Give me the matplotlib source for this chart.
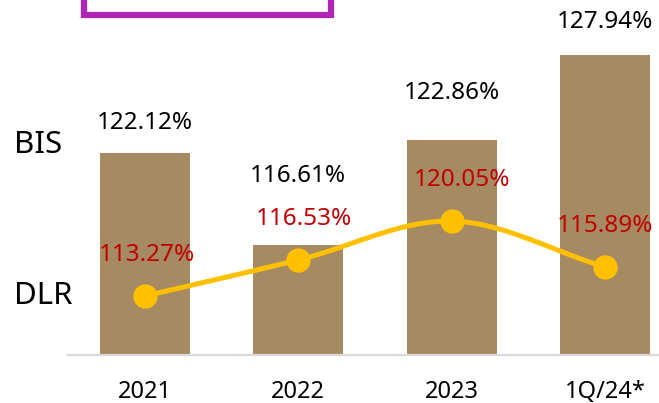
import matplotlib
matplotlib.use("Agg")
import matplotlib.pyplot as plt
import numpy as np
from matplotlib.patches import Rectangle

plt.rcParams['font.family'] = ['Noto Sans', 'DejaVu Sans']

categories = ["2021", "2022", "2023", "1Q/24*"]
bis_values = [122.12, 116.61, 122.86, 127.94]
dlr_values = [113.27, 116.53, 120.05, 115.89]
bis_labels = ["122.12%", "116.61%", "122.86%", "127.94%"]
dlr_labels = ["113.27%", "116.53%", "120.05%", "115.89%"]

W, H = 659, 403
fig = plt.figure(figsize=(W / 100, H / 100), dpi=100)

def px_axes(l, t, r, b):
    return [l / W, (H - b) / H, (r - l) / W, (b - t) / H]

ax = fig.add_axes(px_axes(68, 20, 659, 355))
x = np.arange(len(categories))
ax.bar(x, bis_values, width=0.587, color="#A68A62", zorder=2)
ax.set_xlim(-0.502, 3.352)
ax.set_ylim(110, 130.06)
for s in ["top", "right", "left"]:
    ax.spines[s].set_visible(False)
ax.spines["bottom"].set_color("#D9D9D9")
ax.spines["bottom"].set_linewidth(1.6)
ax.set_yticks([])
ax.set_xticks(x)
ax.set_xticklabels(categories, fontsize=17)
ax.tick_params(axis="x", length=0, pad=18)

bis_off_px = [30, 69, 47, 33]
for i, (v, lab) in enumerate(zip(bis_values, bis_labels)):
    ax.annotate(lab, (i, v), xytext=(0, bis_off_px[i] * 0.72), textcoords="offset points",
                ha="center", va="center", fontsize=17.5, color="black")

ax2 = ax.twinx()
ax2.set_ylim(107.94, 138.23)
ax2.axis("off")

# smooth (Catmull-Rom) curve through the points
xs = x.astype(float)
ys = np.array(dlr_values)
P = np.column_stack([xs, ys])
Pext = np.vstack([2 * P[0] - P[1], P, 2 * P[-1] - P[-2]])
cx, cy = [], []
for k in range(1, len(Pext) - 2):
    p0, p1, p2, p3 = Pext[k - 1], Pext[k], Pext[k + 1], Pext[k + 2]
    t = np.linspace(0, 1, 40)[:, None]
    c = 0.5 * ((2 * p1) + (-p0 + p2) * t + (2 * p0 - 5 * p1 + 4 * p2 - p3) * t ** 2
               + (-p0 + 3 * p1 - 3 * p2 + p3) * t ** 3)
    cx.extend(c[:, 0]); cy.extend(c[:, 1])
ax2.plot(cx, cy, color="#FFC000", lw=3.6, zorder=3, solid_capstyle="round")
ax2.plot(xs, ys, "o", color="#FFC000", markersize=16.5, zorder=4)
dlr_dx_px = [2, 6, 10, 0]
for i, (v, lab) in enumerate(zip(dlr_values, dlr_labels)):
    ax2.annotate(lab, (i, v), xytext=(dlr_dx_px[i] * 0.72, 41 * 0.72), textcoords="offset points",
                 ha="center", va="center", fontsize=17.5, color="#C00000")

fig.text(14 / W, 1 - 145 / H, "BIS", fontsize=22.5, va="center", ha="left")
fig.text(14 / W, 1 - 296 / H, "DLR", fontsize=22.5, va="center", ha="left")

# purple box at top (partially off the figure)
box = Rectangle((84 / W, 1 - 15 / H), (331 - 84) / W, 30 / H, transform=fig.transFigure,
                facecolor="white", edgecolor="#B024B8", linewidth=4.5, clip_on=False)
fig.add_artist(box)

fig.savefig("out.png", dpi=100)
